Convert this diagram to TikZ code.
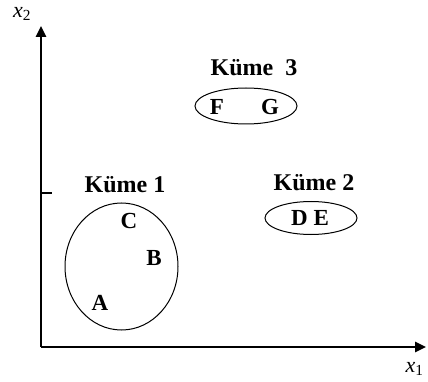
\documentclass[tikz,border=0pt]{standalone}
\usepackage{fontspec}
\setmainfont{Liberation Serif}
\usepackage{tikz}
\usetikzlibrary{arrows.meta, positioning, shapes.geometric}

\tikzset{
    eksen/.style={line width=2.6pt, -{Triangle[length=11pt, width=10pt]}},
    kume/.style={draw, ellipse, line width=1pt, inner sep=0pt},
    kumead/.style={font=\fontsize{24}{28}\selectfont\bfseries},
    nokta/.style={font=\fontsize{23}{27}\selectfont\bfseries, inner sep=0pt}
}

\begin{document}
\begin{tikzpicture}[x=1pt, y=-1pt]
    \useasboundingbox (0,0) rectangle (428,382);

    % eksenler
    \coordinate (O) at (41,347);
    \coordinate (yuc) at (41,26);
    \coordinate (xuc) at (426,347);
    \draw[eksen] (O) -- (yuc);
    \draw[eksen] (O) -- (xuc);
    \draw[line width=2pt] (41,193) -- (52,193);
    \node[font=\fontsize{22}{24}\selectfont] (x2) at (22,14) {\textit{x}\textsubscript{2}};
    \node[font=\fontsize{22}{24}\selectfont, anchor=east] (x1) at (427,369) {\textit{x}\textsubscript{1}};

    % Küme 1
    \node[kume, minimum width=113pt, minimum height=127pt] (k1) at (121.5,266.5) {};
    \node[kumead] (k1ad) at (125,185) {Küme 1};
    \node[nokta] (C) at (129,221) {C};
    \node[nokta] (B) at (154,258) {B};
    \node[nokta] (A) at (100,303) {A};

    % Küme 2
    \node[kume, minimum width=92pt, minimum height=33pt] (k2) at (311,218) {};
    \node[kumead] (k2ad) at (314,183) {Küme 2};
    \node[nokta] (DE) at (310,218) {D E};

    % Küme 3
    \node[kume, minimum width=102pt, minimum height=36pt] (k3) at (246,106) {};
    \node[kumead] (k3ad) at (254,68) {Küme\ \ 3};
    \node[nokta] (F) at (217,107) {F};
    \node[nokta] (G) at (270,107) {G};
\end{tikzpicture}
\end{document}
